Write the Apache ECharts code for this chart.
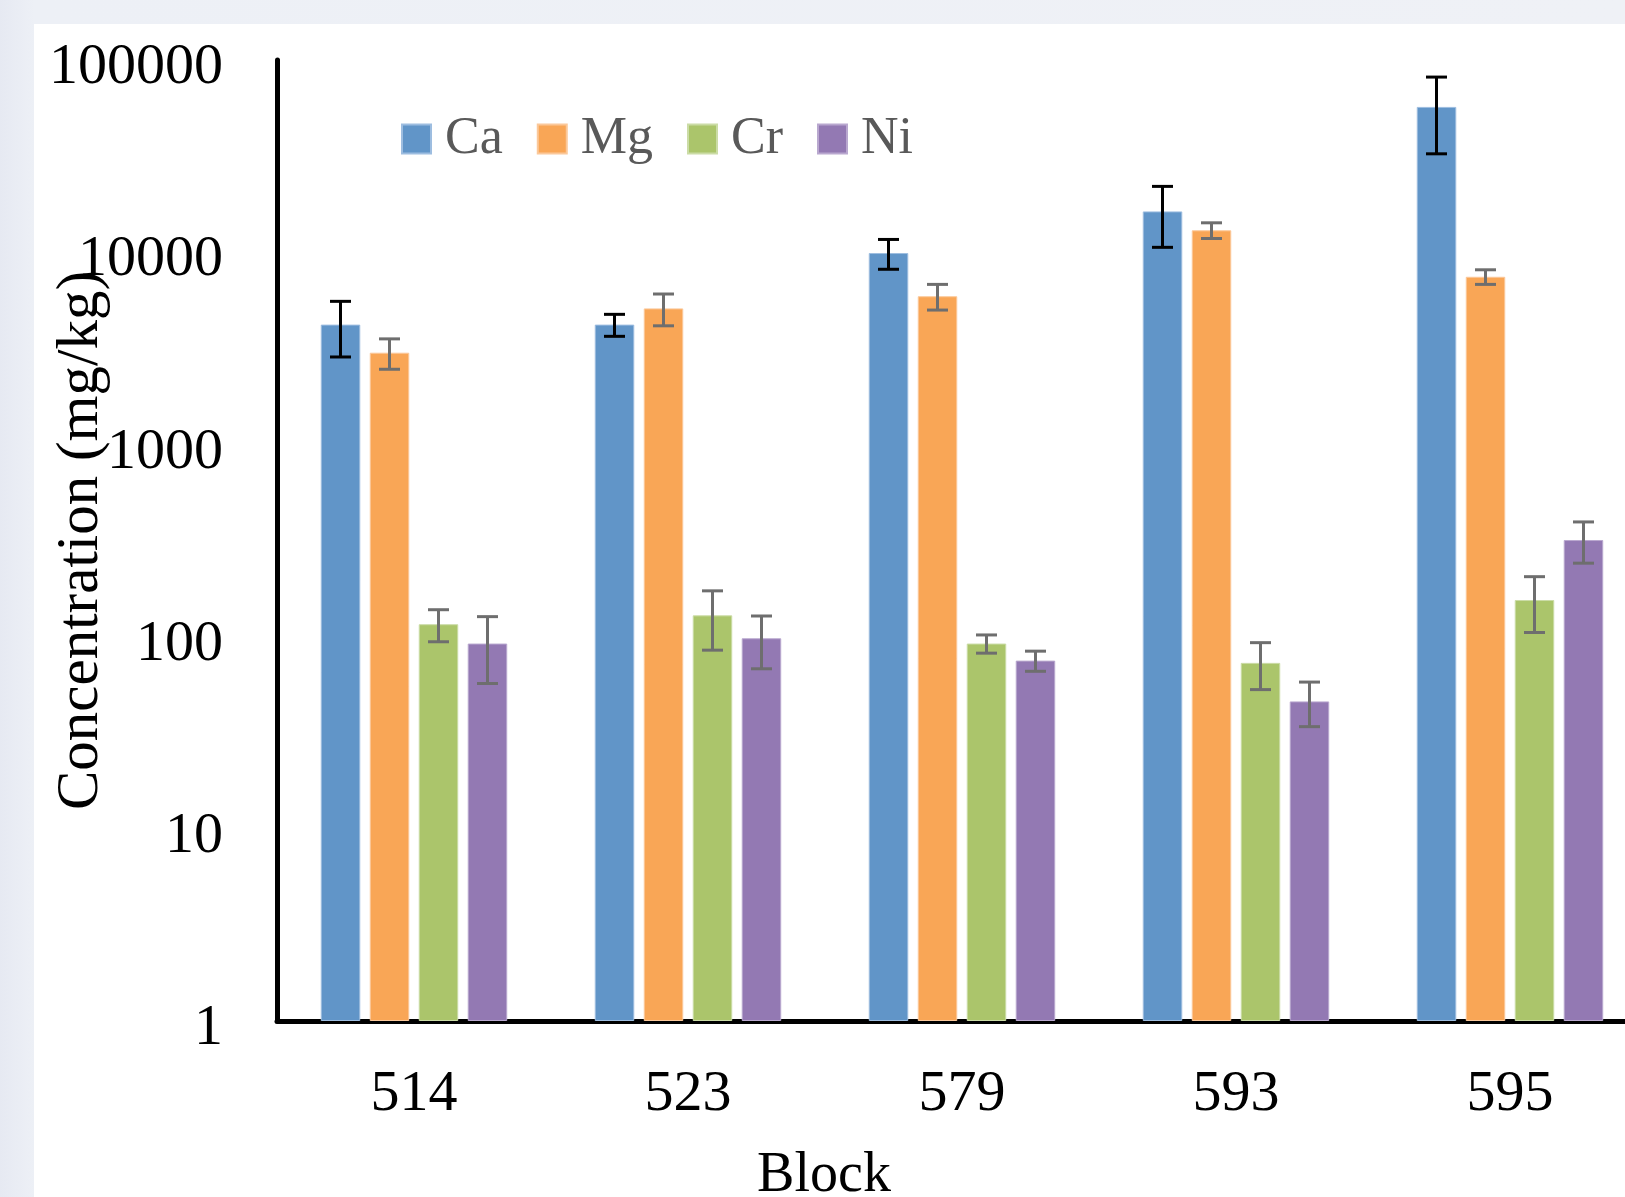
<!DOCTYPE html>
<html>
<head>
<meta charset="utf-8">
<script src="https://cdn.jsdelivr.net/npm/echarts@6/dist/echarts.min.js"></script>
<style>
  html, body { margin: 0; padding: 0; width: 1625px; height: 1197px; overflow: hidden;
    background: linear-gradient(90deg, #e6e9f2 0px, #edf0f6 34px, #eff1f6 100%); }
  #chart { position: absolute; left: 34px; top: 24px; width: 1591px; height: 1173px; background: #ffffff; }
</style>
</head>
<body>
<div id="chart"></div>
<script>
const categories = ['514', '523', '579', '593', '595'];
const seriesNames = ['Ca', 'Mg', 'Cr', 'Ni'];
const ca = [4200, 4200, 9900, 16300, 57000];
const caErr = [1350, 550, 1750, 5700, 24500];
const mg = [3000, 5100, 5900, 13000, 7450];
const mgErr = [540, 960, 900, 1220, 650];
const cr = [116, 129, 92, 73, 155];
const crErr = [22, 44, 10, 20, 50];
const ni = [92, 98, 75, 46, 318];
const niErr = [35, 30, 9, 12, 77];
const yTicks = [1, 10, 100, 1000, 10000, 100000];

const values = [ca, mg, cr, ni];
const errors = [caErr, mgErr, crErr, niErr];
const colors = ['#6195C8', '#F9A656', '#ABC56B', '#9379B3'];
const borderColors = ['#9dbde0', '#fbc89a', '#cbdca6', '#b9a8cf'];
const errColors = ['#000000', '#6E6E6E', '#6E6E6E', '#6E6E6E'];

const BAR_W = 39.5;
const BAR_STEP = 49;
const FONT = '"Liberation Serif", "Times New Roman", serif';

const chart = echarts.init(document.getElementById('chart'));

const series = [];
seriesNames.forEach((name, s) => {
  series.push({
    name: name,
    type: 'bar',
    data: values[s],
    barWidth: BAR_W,
    barGap: '24%',
    itemStyle: { color: colors[s], borderColor: borderColors[s], borderWidth: 1 },
    animation: false,
    z: 2
  });
});
seriesNames.forEach((name, s) => {
  const offset = (s - 1.5) * BAR_STEP;
  series.push({
    type: 'custom',
    name: name + ' error',
    data: categories.map((c, i) => [i, values[s][i] - errors[s][i], values[s][i] + errors[s][i]]),
    encode: { x: 0, y: [1, 2] },
    z: 5,
    silent: true,
    animation: false,
    renderItem: function (params, api) {
      const lo = api.coord([api.value(0), api.value(1)]);
      const hi = api.coord([api.value(0), api.value(2)]);
      const x = lo[0] + offset;
      const half = 10.5;
      const st = { stroke: errColors[s], lineWidth: 3 };
      return {
        type: 'group',
        children: [
          { type: 'line', shape: { x1: x, y1: lo[1], x2: x, y2: hi[1] }, style: st },
          { type: 'line', shape: { x1: x - half, y1: lo[1], x2: x + half, y2: lo[1] }, style: st },
          { type: 'line', shape: { x1: x - half, y1: hi[1], x2: x + half, y2: hi[1] }, style: st }
        ]
      };
    }
  });
});

chart.setOption({
  animation: false,
  backgroundColor: '#ffffff',
  title: {
    text: 'Block',
    left: 785,
    top: 1119,
    textAlign: 'center',
    textStyle: { fontFamily: FONT, fontSize: 56, fontWeight: 'normal', color: '#000000', lineHeight: 56 }
  },
  legend: {
    data: seriesNames,
    left: 362,
    top: 84,
    icon: 'rect',
    itemWidth: 29,
    itemHeight: 29,
    itemGap: 34,
    textStyle: { fontFamily: FONT, fontSize: 52, color: '#595959', lineHeight: 52, padding: [0, 0, 0, 9] }
  },
  grid: { left: 243, top: 36, right: -22, bottom: 176, containLabel: false, outerBoundsMode: 'none' },
  xAxis: {
    type: 'category',
    data: categories,
    axisLine: { show: true, lineStyle: { color: '#000000', width: 5 } },
    axisTick: { show: false },
    axisLabel: { fontFamily: FONT, fontSize: 58, color: '#000000', margin: 45, lineHeight: 58 },
    splitLine: { show: false }
  },
  yAxis: {
    type: 'log',
    logBase: 10,
    min: 1,
    max: 100000,
    name: 'Concentration (mg/kg)',
    nameLocation: 'middle',
    nameRotate: 90,
    nameGap: 166,
    nameMoveOverlap: false,
    nameTextStyle: { fontFamily: FONT, fontSize: 59, color: '#000000' },
    axisLine: { show: true, lineStyle: { color: '#000000', width: 5 } },
    axisTick: { show: false },
    splitLine: { show: false },
    axisLabel: {
      fontFamily: FONT, fontSize: 58, color: '#000000', margin: 54,
      rich: {
        t: { fontFamily: FONT, fontSize: 58, color: '#000000', lineHeight: 58, padding: [16, 0, 0, 0] }
      },
      formatter: function (v) {
        const r = Math.round(v);
        return yTicks.indexOf(r) >= 0 ? '{t|' + r + '}' : '';
      }
    }
  },
  series: series
});
</script>
</body>
</html>
